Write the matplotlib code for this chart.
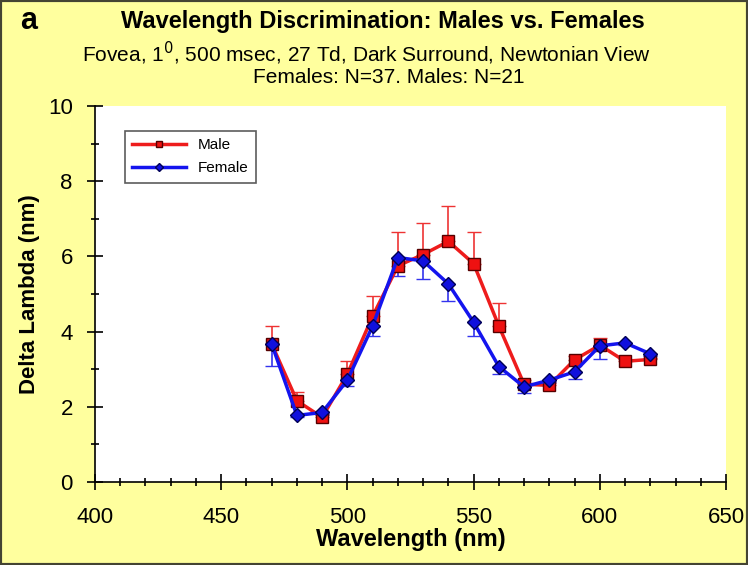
import matplotlib.pyplot as plt
from matplotlib.ticker import MultipleLocator

plt.rcParams['font.family'] = ['Liberation Sans', 'DejaVu Sans']

wavelength = [470, 480, 490, 500, 510, 520, 530, 540, 550, 560, 570, 580, 590, 600, 610, 620]
male = [3.67, 2.16, 1.72, 2.87, 4.41, 5.75, 6.05, 6.40, 5.81, 4.15, 2.60, 2.57, 3.25, 3.64, 3.21, 3.26]
male_err = [0.48, 0.24, 0.05, 0.35, 0.55, 0.90, 0.85, 0.95, 0.85, 0.62, 0.10, 0.05, 0.10, 0.18, 0.05, 0.05]
female = [3.67, 1.77, 1.85, 2.71, 4.15, 5.97, 5.88, 5.27, 4.25, 3.07, 2.53, 2.71, 2.93, 3.62, 3.70, 3.41]
female_err = [0.58, 0.05, 0.05, 0.15, 0.28, 0.48, 0.48, 0.45, 0.36, 0.20, 0.17, 0.05, 0.18, 0.35, 0.05, 0.05]

yellow = '#ffff9e'
fig = plt.figure(figsize=(7.48, 5.65), dpi=100, facecolor=yellow)
ax = fig.add_axes([95 / 748, 1 - 482 / 565, 631 / 748, 376 / 565])
ax.set_facecolor('white')

zeros = [0] * len(wavelength)
# error bars only (one-sided: male up, female down)
ax.errorbar(wavelength, male, yerr=[zeros, male_err], fmt='none',
            ecolor='#ee3333', elinewidth=1.2, capsize=5, zorder=2)
ax.errorbar(wavelength, female, yerr=[female_err, zeros], fmt='none',
            ecolor='#3333ee', elinewidth=1.2, capsize=5, zorder=2)
ax.plot(wavelength, male, color='#ee1c1c', lw=2.5, marker='s', ms=8,
        mfc='#ee1111', mec='#550000', mew=1, label='Male', zorder=3)
ax.plot(wavelength, female, color='#1414ee', lw=2.5, marker='D', ms=7,
        mfc='#1010dd', mec='#000055', mew=1, label='Female', zorder=4)

ax.set_xlim(400, 650)
ax.set_ylim(0, 10)
ax.xaxis.set_major_locator(MultipleLocator(50))
ax.xaxis.set_minor_locator(MultipleLocator(10))
ax.yaxis.set_major_locator(MultipleLocator(2))
ax.yaxis.set_minor_locator(MultipleLocator(1))
ax.tick_params(which='major', direction='inout', length=12, width=1.2, labelsize=16)
ax.tick_params(axis='x', which='major', pad=12)
ax.tick_params(axis='y', which='major', pad=10)
ax.tick_params(which='minor', direction='inout', length=6, width=1.2)
for s in ['top', 'right']:
    ax.spines[s].set_visible(False)
for s in ['left', 'bottom']:
    ax.spines[s].set_linewidth(1.2)

ax.set_xlabel('Wavelength (nm)', fontsize=17, fontweight='bold', labelpad=0)
ax.set_ylabel('Delta Lambda (nm)', fontsize=16, fontweight='bold', labelpad=6)

leg = ax.legend(loc='upper left', bbox_to_anchor=(0.035, 0.955), fontsize=11,
                frameon=True, fancybox=False, edgecolor='#333333',
                handlelength=3.5, borderpad=0.5, labelspacing=0.6, markerscale=0.6)
leg.get_frame().set_linewidth(1.2)

fig.text(0.027, 0.962, 'a', fontsize=22, fontweight='bold', va='center', ha='left')
fig.text(0.512, 0.962, 'Wavelength Discrimination: Males vs. Females', fontsize=17,
         fontweight='bold', ha='center', va='center')
fig.text(0.49, 0.906, 'Fovea, 1$^0$, 500 msec, 27 Td, Dark Surround, Newtonian View',
         fontsize=15, ha='center', va='center')
fig.text(0.52, 0.862, 'Females: N=37. Males: N=21', fontsize=15, ha='center', va='center')

border = plt.Rectangle((0, 0), 1, 1, transform=fig.transFigure, fill=False,
                       edgecolor='#444433', lw=3)
fig.patches.append(border)

fig.savefig('out.png', dpi=100, facecolor=yellow)
